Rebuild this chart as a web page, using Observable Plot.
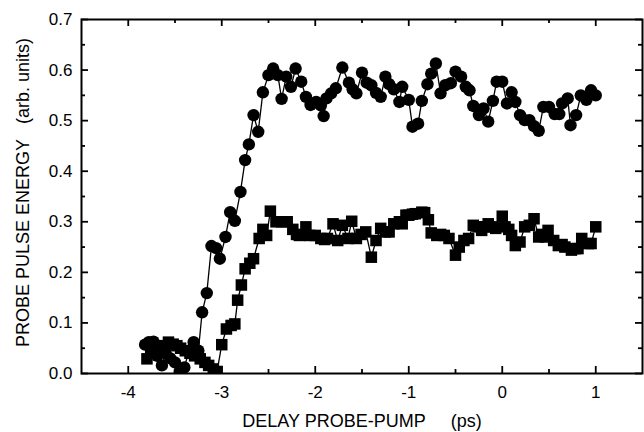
<!DOCTYPE html>
<html>
<head>
<meta charset="utf-8">
<script src="https://cdn.jsdelivr.net/npm/d3@7"></script>
<script src="https://cdn.jsdelivr.net/npm/@observablehq/plot@0.6"></script>
<style>
  html, body { margin: 0; padding: 0; background: #fff; }
  #chart svg { display: block; }
</style>
</head>
<body>
<div id="chart"></div>
<script>
// Circle series (upper curve)
const circleX = [-3.82,-3.78,-3.73,-3.69,-3.64,-3.60,-3.55,-3.50,-3.45,-3.40,-3.35,-3.30,-3.25,-3.21,-3.16,-3.11,-3.06,-3.02,-2.96,-2.91,-2.86,-2.80,-2.75,-2.71,-2.66,-2.61,-2.56,-2.50,-2.45,-2.40,-2.36,-2.31,-2.26,-2.21,-2.15,-2.10,-2.05,-1.99,-1.94,-1.91,-1.88,-1.83,-1.78,-1.71,-1.64,-1.60,-1.56,-1.50,-1.45,-1.40,-1.35,-1.30,-1.25,-1.21,-1.16,-1.10,-1.07,-1.00,-0.96,-0.90,-0.86,-0.80,-0.76,-0.71,-0.66,-0.61,-0.55,-0.50,-0.44,-0.39,-0.35,-0.31,-0.25,-0.20,-0.15,-0.10,-0.06,0.00,0.05,0.10,0.14,0.19,0.24,0.29,0.34,0.39,0.44,0.50,0.56,0.61,0.64,0.70,0.73,0.79,0.84,0.90,0.95,1.00];
const circleY = [0.057,0.062,0.063,0.035,0.016,0.040,0.030,0.022,0.004,0.012,0.045,0.062,0.045,0.121,0.159,0.252,0.248,0.227,0.270,0.319,0.302,0.359,0.422,0.453,0.511,0.478,0.556,0.590,0.603,0.590,0.543,0.587,0.567,0.603,0.577,0.547,0.531,0.537,0.530,0.509,0.544,0.554,0.564,0.605,0.575,0.562,0.554,0.595,0.575,0.570,0.555,0.547,0.587,0.572,0.562,0.537,0.567,0.541,0.488,0.494,0.539,0.572,0.593,0.613,0.554,0.570,0.574,0.597,0.587,0.567,0.560,0.529,0.511,0.524,0.498,0.539,0.577,0.577,0.534,0.556,0.537,0.511,0.501,0.501,0.489,0.480,0.527,0.527,0.513,0.513,0.534,0.544,0.491,0.511,0.550,0.541,0.560,0.550];

// Square series (lower curve)
const squareX = [-3.80,-3.76,-3.71,-3.66,-3.61,-3.57,-3.52,-3.48,-3.44,-3.39,-3.34,-3.29,-3.23,-3.18,-3.14,-3.09,-3.05,-3.00,-2.95,-2.90,-2.86,-2.83,-2.79,-2.75,-2.70,-2.66,-2.60,-2.56,-2.52,-2.48,-2.42,-2.36,-2.30,-2.24,-2.20,-2.17,-2.10,-2.06,-2.00,-1.94,-1.90,-1.87,-1.81,-1.76,-1.71,-1.65,-1.61,-1.56,-1.51,-1.46,-1.40,-1.35,-1.30,-1.25,-1.21,-1.16,-1.10,-1.07,-1.03,-1.00,-0.96,-0.93,-0.86,-0.83,-0.79,-0.76,-0.70,-0.66,-0.62,-0.57,-0.50,-0.46,-0.41,-0.36,-0.31,-0.26,-0.22,-0.18,-0.15,-0.10,-0.07,0.00,0.03,0.07,0.10,0.14,0.19,0.24,0.29,0.34,0.39,0.42,0.46,0.49,0.55,0.60,0.64,0.67,0.74,0.78,0.81,0.85,0.92,0.95,1.00];
const squareY = [0.029,0.045,0.040,0.055,0.048,0.062,0.058,0.055,0.050,0.045,0.040,0.035,0.029,0.022,0.016,0.009,0.004,0.057,0.088,0.095,0.098,0.145,0.175,0.207,0.218,0.227,0.267,0.285,0.273,0.321,0.300,0.300,0.300,0.285,0.275,0.273,0.290,0.273,0.273,0.267,0.265,0.267,0.296,0.263,0.293,0.267,0.301,0.267,0.275,0.280,0.230,0.263,0.287,0.280,0.280,0.296,0.300,0.296,0.313,0.313,0.315,0.316,0.319,0.318,0.304,0.278,0.273,0.275,0.273,0.267,0.234,0.250,0.263,0.267,0.293,0.290,0.283,0.290,0.296,0.290,0.287,0.311,0.290,0.285,0.273,0.253,0.260,0.290,0.293,0.306,0.270,0.275,0.270,0.283,0.263,0.253,0.255,0.250,0.244,0.247,0.247,0.267,0.257,0.257,0.290];

// Ticks and labels
const xMajor = [-4, -3, -2, -1, 0, 1];
const xMinor = [-3.5, -2.5, -1.5, -0.5, 0.5];
const yMajor = [0, 0.1, 0.2, 0.3, 0.4, 0.5, 0.6, 0.7];
const yMinor = [0.05, 0.15, 0.25, 0.35, 0.45, 0.55, 0.65];
const xLabel = "DELAY PROBE-PUMP\u00a0\u00a0\u00a0\u00a0\u00a0(ps)";
const yLabel = "PROBE PULSE ENERGY\u00a0\u00a0\u00a0(arb. units)";

const circles = circleX.map((x, i) => ({x, y: circleY[i]}));
const squares = squareX.map((x, i) => ({x, y: squareY[i]}));

const W = 644, H = 432, ML = 81, MR = 2, MT = 19, MB = 59;
const innerW = W - ML - MR, innerH = H - MT - MB;
const major = 7, minor = 4;
const font = "'Liberation Sans', Arial, sans-serif";

const chart = Plot.plot({
  width: W,
  height: H,
  marginLeft: ML,
  marginRight: MR,
  marginTop: MT,
  marginBottom: MB,
  style: {fontFamily: font, fontSize: "17px", color: "black", background: "white"},
  x: {domain: [-4.5, 1.5], axis: null},
  y: {domain: [0, 0.7], axis: null},
  marks: [
    // inward ticks on all four sides
    Plot.ruleX(xMajor, {x: d => d, insetTop: innerH - major, stroke: "black", strokeWidth: 1.8}),
    Plot.ruleX(xMajor, {x: d => d, insetBottom: innerH - major, stroke: "black", strokeWidth: 1.8}),
    Plot.ruleX(xMinor, {x: d => d, insetTop: innerH - minor, stroke: "black", strokeWidth: 1.8}),
    Plot.ruleX(xMinor, {x: d => d, insetBottom: innerH - minor, stroke: "black", strokeWidth: 1.8}),
    Plot.ruleY(yMajor, {y: d => d, insetRight: innerW - major, stroke: "black", strokeWidth: 1.8}),
    Plot.ruleY(yMajor, {y: d => d, insetLeft: innerW - major, stroke: "black", strokeWidth: 1.8}),
    Plot.ruleY(yMinor, {y: d => d, insetRight: innerW - minor, stroke: "black", strokeWidth: 1.8}),
    Plot.ruleY(yMinor, {y: d => d, insetLeft: innerW - minor, stroke: "black", strokeWidth: 1.8}),
    // tick labels
    Plot.axisX({anchor: "bottom", ticks: xMajor, tickSize: 0, tickPadding: 12, tickFormat: d => String(d), label: null, fontSize: 17}),
    Plot.axisY({anchor: "left", ticks: yMajor, tickSize: 0, tickPadding: 9, tickFormat: d3.format(".1f"), label: null, fontSize: 17}),
    // axis titles
    Plot.text([xLabel], {frameAnchor: "bottom", text: d => d, dy: 53, fontSize: 18, fill: "black", textAnchor: "middle"}),
    Plot.text([yLabel], {frameAnchor: "left", text: d => d, rotate: -90, dx: -58, dy: -4, fontSize: 18, fill: "black", textAnchor: "middle"}),
    // data
    Plot.line(circles, {x: "x", y: "y", stroke: "black", strokeWidth: 1.3, clip: true}),
    Plot.line(squares, {x: "x", y: "y", stroke: "black", strokeWidth: 1.3, clip: true}),
    Plot.dot(circles, {x: "x", y: "y", r: 6.2, fill: "black", stroke: "none", symbol: "circle", clip: true}),
    Plot.dot(squares, {x: "x", y: "y", r: 6.5, fill: "black", stroke: "none", symbol: "square", clip: true}),
    Plot.frame({stroke: "black", strokeWidth: 2})
  ]
});
document.getElementById("chart").appendChild(chart);
</script>
</body>
</html>
